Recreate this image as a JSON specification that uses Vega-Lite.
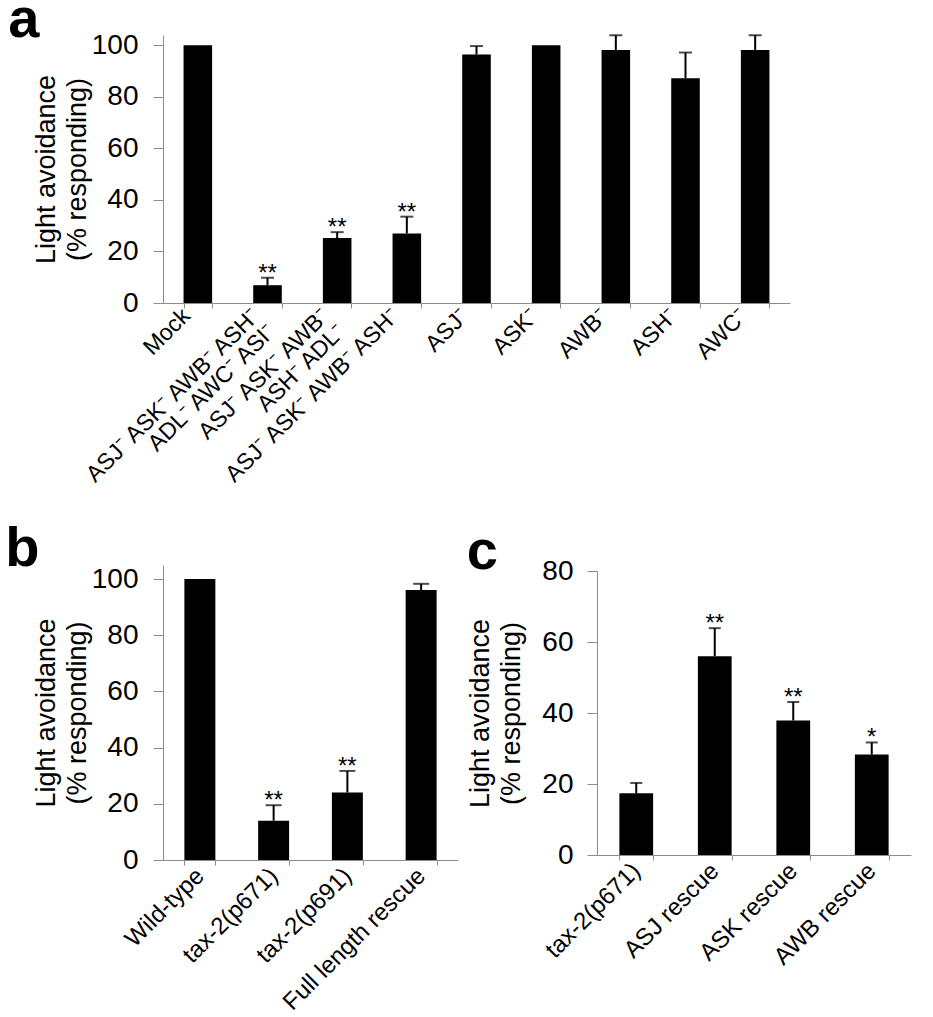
{
  "$schema": "https://vega.github.io/schema/vega-lite/v6.json",
  "background": "white",
  "padding": {"left": 5, "top": -8, "right": 5, "bottom": 5},
  "spacing": 16,
  "align": "none",
  "config": {
    "view": {"stroke": null},
    "font": "Liberation Sans",
    "axis": {"domainColor": "#8c8c8c", "tickColor": "#8c8c8c", "labelColor": "#000000", "titleColor": "#000000", "labelFont": "Liberation Sans", "titleFont": "Liberation Sans", "titleFontWeight": "normal", "grid": false},
    "title": {"fontSize": 56, "fontWeight": "bold", "anchor": "start", "frame": "bounds", "font": "Liberation Sans", "color": "#000000", "offset": -30, "baseline": "alphabetic"}
  },
  "vconcat": [
    {
      "width": 627,
      "height": 268,
      "title": {"text": "a", "dx": -24},
      "data": {"values": [
        {"cond": "Mock", "value": 100, "err": null, "sig": ""},
        {"cond": "ASJ⁻ ASK⁻ AWB⁻ ASH⁻\nADL⁻ AWC⁻ ASI⁻\u00a0\u00a0\u00a0\u00a0\u00a0", "value": 6.9, "err": 9.8, "sig": "**"},
        {"cond": "ASJ⁻ ASK⁻ AWB⁻\nASH⁻ ADL⁻\u00a0\u00a0\u00a0\u00a0\u00a0", "value": 25.2, "err": 27.5, "sig": "**"},
        {"cond": "ASJ⁻ ASK⁻ AWB⁻ ASH⁻", "value": 27, "err": 33.5, "sig": "**"},
        {"cond": "ASJ⁻", "value": 96.4, "err": 99.7, "sig": ""},
        {"cond": "ASK⁻", "value": 100, "err": null, "sig": ""},
        {"cond": "AWB⁻", "value": 98.2, "err": 103.9, "sig": ""},
        {"cond": "ASH⁻", "value": 87.2, "err": 97.2, "sig": ""},
        {"cond": "AWC⁻", "value": 98.2, "err": 103.9, "sig": ""}
      ]},
      "encoding": {
        "x": {"field": "cond", "type": "nominal", "sort": null,
          "scale": {"paddingInner": 0.59, "paddingOuter": 0.295},
          "axis": {"title": null, "labelAngle": -45, "labelAlign": "right", "labelBaseline": "middle", "labelFontSize": 23, "labelLineHeight": 22, "labelExpr": "split(datum.label, '\\n')", "tickSize": 5, "tickBand": "extent", "labelPadding": 4, "labelOffset": -12, "labelLimit": 400, "labelOverlap": false}}
      },
      "layer": [
        {"mark": {"type": "bar", "color": "#000000"},
          "encoding": {"y": {"field": "value", "type": "quantitative", "scale": {"domain": [0, 104], "nice": false},
            "axis": {"values": [0, 20, 40, 60, 80, 100], "title": ["Light avoidance", "(% responding)"], "titleFontSize": 27, "labelFontSize": 28, "tickSize": 10, "labelPadding": 15, "titlePadding": 0, "titleLineHeight": 31}}}},
        {"transform": [{"filter": "datum.err != null"}],
          "mark": {"type": "rule", "strokeWidth": 2, "color": "#000000"},
          "encoding": {"y": {"field": "value", "type": "quantitative"}, "y2": {"field": "err"}}},
        {"transform": [{"filter": "datum.err != null"}],
          "mark": {"type": "tick", "thickness": 2, "size": 13, "color": "#000000"},
          "encoding": {"y": {"field": "err", "type": "quantitative"}}},
        {"transform": [{"filter": "datum.err != null"}],
          "mark": {"type": "text", "fontSize": 24, "baseline": "alphabetic", "dy": 3, "color": "#000000"},
          "encoding": {"y": {"field": "err", "type": "quantitative"}, "text": {"field": "sig"}}}
      ]
    },
    {
      "spacing": 8,
      "hconcat": [
        {
          "width": 295,
          "height": 295,
          "title": {"text": "b", "dx": -27, "offset": -13},
          "data": {"values": [
            {"cond": "Wild-type", "value": 100, "err": null, "sig": ""},
            {"cond": "tax-2(p671)", "value": 14, "err": 19.5, "sig": "**"},
            {"cond": "tax-2(p691)", "value": 24, "err": 31.7, "sig": "**"},
            {"cond": "Full length rescue", "value": 96.1, "err": 98.3, "sig": ""}
          ]},
          "encoding": {
            "x": {"field": "cond", "type": "nominal", "sort": null,
              "scale": {"paddingInner": 0.58, "paddingOuter": 0.29},
              "axis": {"title": null, "labelAngle": -45, "labelAlign": "right", "labelBaseline": "middle", "labelFontSize": 24, "tickSize": 5, "tickBand": "extent", "labelPadding": 7, "labelLimit": 400, "labelOverlap": false}}
          },
          "layer": [
            {"mark": {"type": "bar", "color": "#000000"},
              "encoding": {"y": {"field": "value", "type": "quantitative", "scale": {"domain": [0, 105], "nice": false},
                "axis": {"values": [0, 20, 40, 60, 80, 100], "title": ["Light avoidance", "(% responding)"], "titleFontSize": 27, "labelFontSize": 28, "tickSize": 10, "labelPadding": 15, "titlePadding": 0, "titleLineHeight": 31}}}},
            {"transform": [{"filter": "datum.err != null"}],
              "mark": {"type": "rule", "strokeWidth": 2, "color": "#000000"},
              "encoding": {"y": {"field": "value", "type": "quantitative"}, "y2": {"field": "err"}}},
            {"transform": [{"filter": "datum.err != null"}],
              "mark": {"type": "tick", "thickness": 2, "size": 16, "color": "#000000"},
              "encoding": {"y": {"field": "err", "type": "quantitative"}}},
            {"transform": [{"filter": "datum.err != null"}],
              "mark": {"type": "text", "fontSize": 24, "baseline": "alphabetic", "dy": 3, "color": "#000000"},
              "encoding": {"y": {"field": "err", "type": "quantitative"}, "text": {"field": "sig"}}}
          ]
        },
        {
          "width": 314,
          "height": 290,
          "title": {"text": "c", "dx": 0, "offset": -24},
          "data": {"values": [
            {"cond": "tax-2(p671)", "value": 17.4, "err": 20.3, "sig": ""},
            {"cond": "ASJ rescue", "value": 56, "err": 63.9, "sig": "**"},
            {"cond": "ASK rescue", "value": 37.9, "err": 43.1, "sig": "**"},
            {"cond": "AWB rescue", "value": 28.3, "err": 31.7, "sig": "*"}
          ]},
          "encoding": {
            "x": {"field": "cond", "type": "nominal", "sort": null,
              "scale": {"paddingInner": 0.57, "paddingOuter": 0.285},
              "axis": {"title": null, "labelAngle": -45, "labelAlign": "right", "labelBaseline": "middle", "labelFontSize": 24, "tickSize": 5, "tickBand": "extent", "labelPadding": 7, "labelLimit": 400, "labelOverlap": false}}
          },
          "layer": [
            {"mark": {"type": "bar", "color": "#000000"},
              "encoding": {"y": {"field": "value", "type": "quantitative", "scale": {"domain": [0, 80], "nice": false, "range": [290, 6]},
                "axis": {"values": [0, 20, 40, 60, 80], "title": ["Light avoidance", "(% responding)"], "titleFontSize": 27, "labelFontSize": 28, "tickSize": 10, "labelPadding": 14, "titlePadding": 16, "titleLineHeight": 31}}}},
            {"transform": [{"filter": "datum.err != null"}],
              "mark": {"type": "rule", "strokeWidth": 2, "color": "#000000"},
              "encoding": {"y": {"field": "value", "type": "quantitative"}, "y2": {"field": "err"}}},
            {"transform": [{"filter": "datum.err != null"}],
              "mark": {"type": "tick", "thickness": 2, "size": 12, "color": "#000000"},
              "encoding": {"y": {"field": "err", "type": "quantitative"}}},
            {"transform": [{"filter": "datum.err != null"}],
              "mark": {"type": "text", "fontSize": 24, "baseline": "alphabetic", "dy": 3, "color": "#000000"},
              "encoding": {"y": {"field": "err", "type": "quantitative"}, "text": {"field": "sig"}}}
          ]
        }
      ]
    }
  ]
}
